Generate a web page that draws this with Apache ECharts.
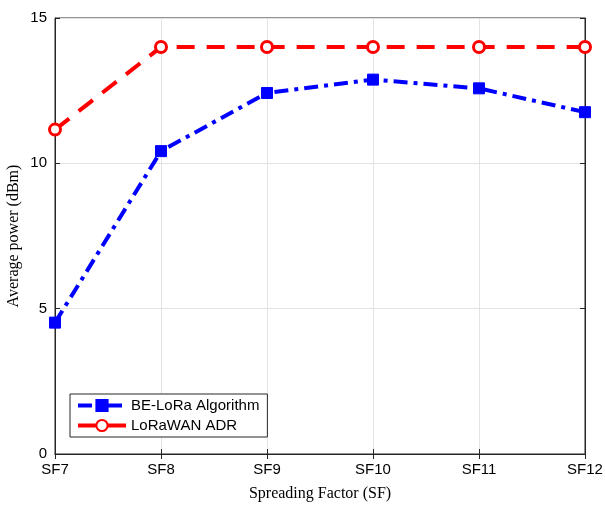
<!DOCTYPE html>
<html>
<head>
<meta charset="utf-8">
<script src="https://cdn.jsdelivr.net/npm/echarts@6/dist/echarts.min.js"></script>
<style>
html, body { margin: 0; padding: 0; background: #fff; }
#chart { width: 605px; height: 506px; }
</style>
</head>
<body>
<div id="chart"></div>
<script>
// 横轴类别和两条曲线的数据
var sfLabels = ['SF7', 'SF8', 'SF9', 'SF10', 'SF11', 'SF12'];
var beLora = [4.52, 10.42, 12.42, 12.88, 12.58, 11.76];
var lorawanAdr = [11.16, 14, 14, 14, 14, 14];
var yTicks = [0, 5, 10, 15];

var myChart = echarts.init(document.getElementById('chart'));
var tickFont = 'Liberation Sans, Arial, sans-serif';
var axisColor = '#262626';

var option = {
  animation: false,
  grid: {
    left: 55, right: 20, top: 18, bottom: 52,
    outerBoundsMode: 'none',
    show: true,
    borderColor: axisColor,
    borderWidth: 1
  },
  legend: {
    left: 70, top: 394,
    orient: 'vertical',
    itemWidth: 48, itemHeight: 14, itemGap: 5,
    padding: [4, 8, 4, 6],
    borderColor: axisColor, borderWidth: 1,
    backgroundColor: '#fff',
    lineStyle: { width: 4 },
    textStyle: { fontFamily: tickFont, fontSize: 15, color: '#000' },
    data: ['BE-LoRa Algorithm', 'LoRaWAN ADR']
  },
  xAxis: [
    {
      type: 'category',
      data: sfLabels,
      boundaryGap: false,
      name: 'Spreading Factor (SF)',
      nameLocation: 'middle',
      nameGap: 32,
      nameTextStyle: { fontFamily: 'Liberation Serif, Times New Roman, serif', fontSize: 16, color: '#000' },
      axisLine: { lineStyle: { color: axisColor } },
      axisTick: { inside: true, length: 5, alignWithLabel: true, lineStyle: { color: axisColor } },
      axisLabel: { fontFamily: tickFont, fontSize: 15, color: '#000', margin: 8 },
      splitLine: { show: true, lineStyle: { color: '#e3e3e3' } }
    },
    {
      type: 'category',
      data: sfLabels,
      boundaryGap: false,
      position: 'top',
      axisLine: { lineStyle: { color: axisColor } },
      axisTick: { inside: true, length: 5, lineStyle: { color: axisColor } },
      axisLabel: { show: false },
      splitLine: { show: false }
    }
  ],
  yAxis: [
    {
      type: 'value',
      min: 0, max: 15, interval: 5,
      name: 'Average power (dBm)',
      nameLocation: 'middle',
      nameGap: 33,
      nameMoveOverlap: false,
      nameTextStyle: { fontFamily: 'Liberation Serif, Times New Roman, serif', fontSize: 16, color: '#000' },
      axisLine: { show: true, lineStyle: { color: axisColor } },
      axisTick: { show: true, inside: true, length: 5, lineStyle: { color: axisColor } },
      axisLabel: {
        fontFamily: tickFont, fontSize: 15, color: '#000', margin: 8,
        formatter: function (v) { return yTicks.indexOf(v) >= 0 ? String(v) : ''; }
      },
      splitLine: { show: true, lineStyle: { color: '#e3e3e3' } }
    },
    {
      type: 'value',
      min: 0, max: 15, interval: 5,
      position: 'right',
      axisLine: { show: true, lineStyle: { color: axisColor } },
      axisTick: { show: true, inside: true, length: 5, lineStyle: { color: axisColor } },
      axisLabel: { show: false },
      splitLine: { show: false }
    }
  ],
  series: [
    {
      name: 'BE-LoRa Algorithm',
      type: 'line',
      data: beLora,
      symbol: 'rect',
      symbolSize: 11,
      itemStyle: { color: '#0000ff', borderColor: '#0000ff', borderWidth: 1 },
      lineStyle: { color: '#0000ff', width: 4, type: [14, 6, 4, 6] },
      z: 3
    },
    {
      name: 'LoRaWAN ADR',
      type: 'line',
      data: lorawanAdr,
      symbol: 'circle',
      symbolSize: 11,
      showAllSymbol: true,
      itemStyle: { color: '#fff', borderColor: '#ff0000', borderWidth: 3 },
      lineStyle: { color: '#ff0000', width: 4, type: [18, 12] },
      z: 3
    }
  ]
};
myChart.setOption(option);
</script>
</body>
</html>
